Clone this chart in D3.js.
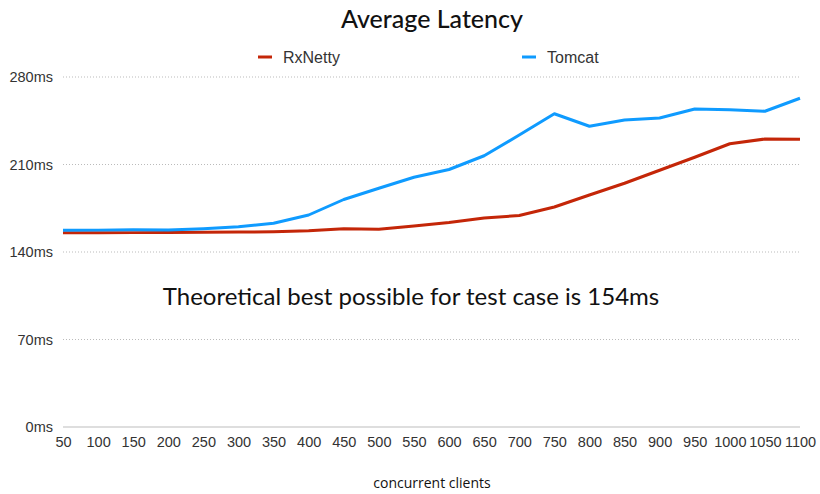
<!DOCTYPE html>
<html>
<head>
<meta charset="utf-8">
<script src="https://cdn.jsdelivr.net/npm/d3@7"></script>
<style>
  body { margin: 0; background: #fff; }
  svg { display: block; }
  .tick text { font-family: "Liberation Sans", Arial, sans-serif; font-size: 14.5px; fill: #333; }
</style>
</head>
<body>
<svg id="chart" width="820" height="494"></svg>
<script>
var clients = [50, 100, 150, 200, 250, 300, 350, 400, 450, 500, 550,
  600, 650, 700, 750, 800, 850, 900, 950, 1000, 1050, 1100];
var rxnetty = [155.4, 155.4, 155.5, 155.6, 155.8, 156, 156.2, 157, 158.6, 158.2, 160.8,
  163.6, 167.2, 169.2, 176, 185.6, 195, 205.4, 215.8, 226.6, 230.4, 230.2];
var tomcat = [157.4, 157.5, 157.8, 157.6, 158.6, 160.2, 163, 169.6, 182, 191, 199.8,
  206, 217, 233.6, 250.6, 240.6, 245.6, 247.2, 254.4, 253.8, 252.6, 263];
var yTicks = [0, 70, 140, 210, 280];
var seriesNames = ["RxNetty", "Tomcat"];
var seriesColors = ["#c42608", "#0f9bff"];

var svg = d3.select("#chart");

var x = d3.scalePoint().domain(clients).range([63, 800]);
var y = d3.scaleLinear().domain([0, 280]).range([427, 77]);

// gridlines
svg.append("g").selectAll("line").data(yTicks.filter(d => d > 0))
  .enter().append("line")
  .attr("x1", 63).attr("x2", 800)
  .attr("y1", d => y(d)).attr("y2", d => y(d))
  .attr("stroke", "#bbb").attr("stroke-width", 1)
  .attr("stroke-dasharray", "1,2");

svg.append("line")
  .attr("x1", 63).attr("x2", 800)
  .attr("y1", y(0)).attr("y2", y(0))
  .attr("stroke", "#bdbdbd").attr("stroke-width", 1.2);

// y axis labels
var yAxis = svg.append("g")
  .attr("transform", "translate(53,0)")
  .call(d3.axisLeft(y).tickValues(yTicks).tickFormat(d => d + "ms").tickSize(0).tickPadding(0));
yAxis.select(".domain").remove();

// x axis labels
var xAxis = svg.append("g")
  .attr("transform", "translate(0," + y(0) + ")")
  .call(d3.axisBottom(x).tickSize(0).tickPadding(10));
xAxis.select(".domain").remove();

var line = d3.line()
  .x((d, i) => x(clients[i]))
  .y(d => y(d));

[rxnetty, tomcat].forEach(function(vals, i) {
  svg.append("path")
    .datum(vals)
    .attr("fill", "none")
    .attr("stroke", seriesColors[i])
    .attr("stroke-width", 3)
    .attr("stroke-linejoin", "round")
    .attr("d", line);
});

// title
svg.append("text")
  .attr("x", 432).attr("y", 28)
  .attr("text-anchor", "middle")
  .style("font-family", "Lato, sans-serif")
  .style("font-size", "25px")
  .style("font-weight", "500")
  .style("fill", "#111")
  .text("Average Latency");

// legend
var legendX = [258, 522];
seriesNames.forEach(function(name, i) {
  svg.append("line")
    .attr("x1", legendX[i]).attr("x2", legendX[i] + 14)
    .attr("y1", 57).attr("y2", 57)
    .attr("stroke", seriesColors[i]).attr("stroke-width", 3);
  svg.append("text")
    .attr("x", legendX[i] + 25).attr("y", 62.5)
    .style("font-family", "Liberation Sans, Arial, sans-serif")
    .style("font-size", "16px")
    .style("fill", "#333")
    .text(name);
});

// annotation
svg.append("text")
  .attr("x", 411).attr("y", 305)
  .attr("text-anchor", "middle")
  .style("font-family", "Lato, sans-serif")
  .style("font-size", "24px")
  .style("fill", "#111")
  .text("Theoretical best possible for test case is 154ms");

// x axis title
svg.append("text")
  .attr("x", 432).attr("y", 488)
  .attr("text-anchor", "middle")
  .style("font-family", "Open Sans, sans-serif")
  .style("font-size", "14px")
  .style("fill", "#111")
  .text("concurrent clients");
</script>
</body>
</html>
